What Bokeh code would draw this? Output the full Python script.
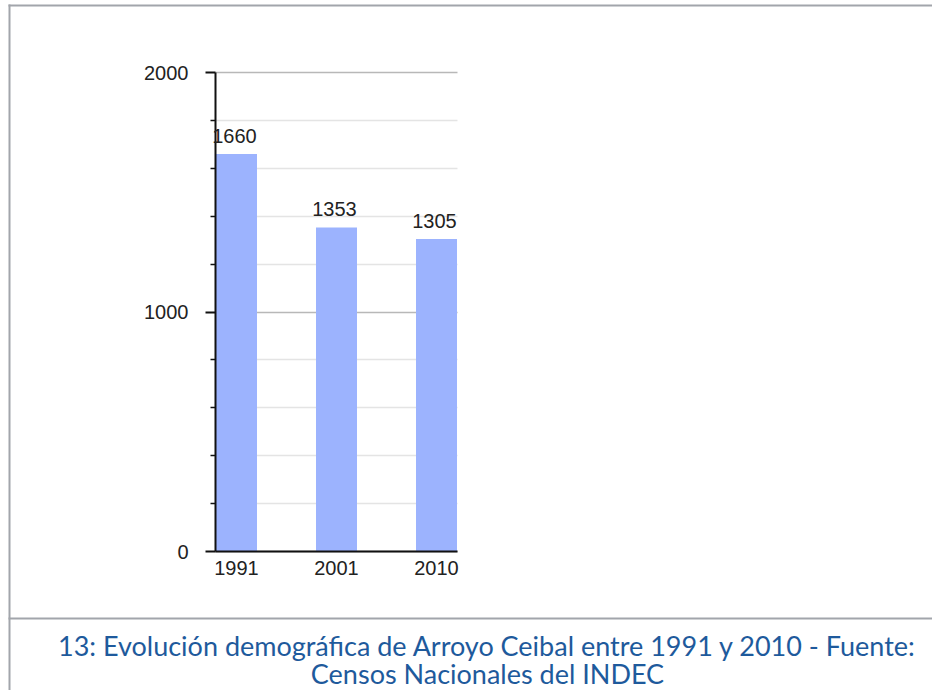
from bokeh.plotting import figure
from bokeh.models import Range1d, ColumnDataSource, FixedTicker, LabelSet
from bokeh.embed import file_html
from bokeh.resources import INLINE
from bokeh.core.properties import value

# ---- data ----
years = ["1991", "2001", "2010"]
population = [1660, 1353, 1305]
y_major_ticks = [0, 1000, 2000]
y_minor_ticks = [200, 400, 600, 800, 1200, 1400, 1600, 1800]
caption_lines = [
    "13: Evolución demográfica de Arroyo Ceibal entre 1991 y 2010 - Fuente:",
    "Censos Nacionales del INDEC",
]

# ---- layout geometry (pixels) ----
W, H = 932, 690
X0_PX, X_STEP_PX = 236, 100          # centre of first category, px per category
Y0_PX, Y_TOP_PX = 551, 72            # pixel rows of 0 and 2000
Y_MAX = 2000
PX_PER_UNIT = (Y0_PX - Y_TOP_PX) / Y_MAX
X_LO, X_HI = -0.21, len(years) - 1 + 0.21   # plot-area extent in category units

FONT = "Liberation Sans"
BORDER = "#a2a5ab"

positions = list(range(len(years)))
src = ColumnDataSource(dict(x=positions, top=population,
                            label=[str(v) for v in population]))

p = figure(width=W, height=H, output_backend="svg", toolbar_location=None,
           x_range=Range1d(-X0_PX / X_STEP_PX, (W - X0_PX) / X_STEP_PX),
           y_range=Range1d(-(H - Y0_PX) / PX_PER_UNIT, Y0_PX / PX_PER_UNIT),
           min_border=0)
p.outline_line_color = None
p.extra_x_ranges = {"px": Range1d(0, W)}
p.extra_y_ranges = {"px": Range1d(H, 0)}

# grid (only over the plot area)
yt = FixedTicker(ticks=y_major_ticks, minor_ticks=y_minor_ticks)
p.xgrid.grid_line_color = None
p.ygrid.ticker = yt
p.ygrid.grid_line_color = "#b8b8b8"
p.ygrid.grid_line_width = 1.5
p.ygrid.minor_grid_line_color = "#e4e4e4"
p.ygrid.minor_grid_line_width = 1.5
p.ygrid.bounds = (0, Y_MAX)
try:
    p.ygrid.cross_bounds = (X_LO, X_HI)
except Exception:
    p.ygrid.visible = False
    p.segment(x0=X_LO, x1=X_HI, y0=y_minor_ticks, y1=y_minor_ticks,
              line_color="#e4e4e4", line_width=1.5)
    p.segment(x0=X_LO, x1=X_HI, y0=y_major_ticks, y1=y_major_ticks,
              line_color="#b8b8b8", line_width=1.5)

p.vbar(x="x", top="top", width=0.41, source=src,
       fill_color="#9CB3FE", line_color=None)

labels = LabelSet(x="x", y="top", text="label", source=src,
                  text_align="center", text_baseline="alphabetic",
                  y_offset=11, x_offset=-2,
                  text_font=value(FONT), text_font_size="20px",
                  text_color="#222222")
p.add_layout(labels)

# y axis
p.yaxis.fixed_location = X_LO
p.yaxis.bounds = (0, Y_MAX)
p.yaxis.ticker = yt
p.yaxis.axis_line_color = "#111111"
p.yaxis.axis_line_width = 2
p.yaxis.major_tick_line_color = "#111111"
p.yaxis.major_tick_line_width = 2
p.yaxis.major_tick_out = 10
p.yaxis.major_tick_in = 0
p.yaxis.minor_tick_line_color = "#111111"
p.yaxis.minor_tick_line_width = 1.5
p.yaxis.minor_tick_out = 5
p.yaxis.minor_tick_in = 0
p.yaxis.major_label_standoff = 17
p.yaxis.major_label_text_font = FONT
p.yaxis.major_label_text_font_size = "20px"
p.yaxis.major_label_text_color = "#222222"

# x axis
p.xaxis.fixed_location = 0
p.xaxis.bounds = (X_LO, X_HI)
p.xaxis.ticker = FixedTicker(ticks=positions)
p.xaxis.major_label_overrides = {i: y for i, y in zip(positions, years)}
p.xaxis.axis_line_color = "#111111"
p.xaxis.axis_line_width = 2
p.xaxis.major_tick_line_color = None
p.xaxis.minor_tick_line_color = None
p.xaxis.major_tick_out = 0
p.xaxis.major_tick_in = 0
p.xaxis.major_label_standoff = 9
p.xaxis.major_label_text_font = FONT
p.xaxis.major_label_text_font_size = "20px"
p.xaxis.major_label_text_color = "#222222"

# frame borders (pixel space)
p.quad(left=[8, 8, 8], right=[10, W, W], top=[4, 4, 617], bottom=[H, 6, 619],
       fill_color=BORDER, line_color=None,
       x_range_name="px", y_range_name="px")

# caption
cap_src = ColumnDataSource(dict(x=[487] * len(caption_lines),
                                y=[645 + 28 * i for i in range(len(caption_lines))],
                                t=caption_lines))
p.text(x="x", y="y", text="t", source=cap_src, text_align="center",
       text_baseline="middle", text_font=value("Lato"),
       text_font_size="27px", text_color="#1e5a9c",
       x_range_name="px", y_range_name="px")

open("out.html", "w").write(file_html(p, INLINE))
